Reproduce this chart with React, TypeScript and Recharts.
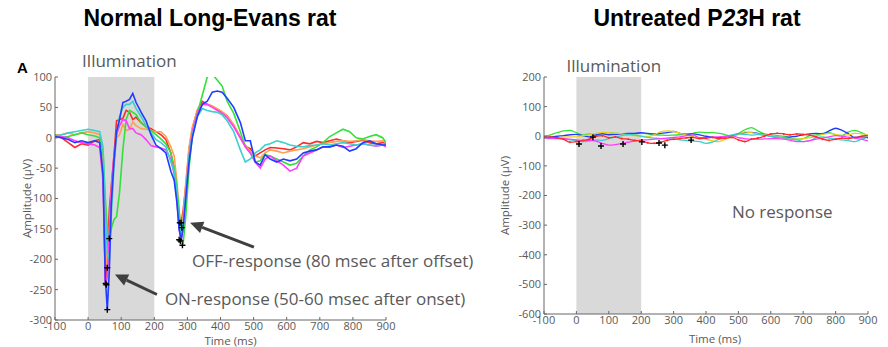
import React from 'react';
import {
  ComposedChart,
  Line,
  XAxis,
  YAxis,
  ReferenceArea,
  ReferenceLine,
  ReferenceDot,
} from 'recharts';

// ---- Normal Long-Evans rat (left) ----
const leftTime = [
  -100, -80, -60, -40, -20, 0, 20, 35, 45, 52, 58, 64, 70, 78, 86, 95, 105, 115, 125, 135,
  145, 160, 175, 190, 205, 220, 235, 250, 260, 268, 275, 281, 287, 295, 305, 315, 330, 345, 360, 375,
  390, 405, 420, 440, 460, 475, 490, 505, 520, 535, 550, 570, 590, 610, 630, 650, 670, 690, 710, 730,
  750, 770, 790, 810, 830, 850, 870, 890, 900,
];
const leftRed = [
  2, 0, -8, -16, -10, -12, -5, -3, -40, -238, -200, -120, -80, -30, 28, 30, 32, 45, 42, 30,
  34, 25, 18, 15, 10, 5, -3, -25, -50, -95, -130, -140, -120, -80, -20, 15, 45, 60, 55, 52,
  47, 42, 36, 20, 0, -14, -18, -30, -25, -20, -16, -17, -18, -20, -15, -8, -10, -6, -8, -5,
  -2, -5, -8, -6, -4, -8, -10, -8, -10,
];
const leftOrange = [
  5, 5, 8, 5, 8, 10, 8, 5, -30, -180, -215, -150, -90, -40, 0, 5, 22, 12, 14, 26,
  20, 15, 14, 12, 10, 10, 2, -15, -30, -70, -120, -150, -130, -75, -15, 18, 45, 55, 55, 52,
  48, 43, 36, 22, 2, -12, -22, -30, -33, -25, -20, -22, -25, -22, -20, -18, -15, -12, -10, -8,
  -6, -5, -6, -5, -3, -5, -6, -5, -7,
];
const leftGreen = [
  5, 0, 2, 5, 8, 5, 3, 0, -20, -100, -150, -165, -150, -135, -130, -90, -20, 30, 45, 42,
  38, 25, 18, 12, 5, -2, -10, -25, -50, -80, -120, -165, -175, -130, -50, 5, 40, 70, 100, 105,
  95, 85, 60, 40, 10, -15, -25, -40, -38, -28, -30, -35, -40, -45, -42, -30, -20, -15, -8, 2,
  8, 14, 10, 0, -2, 2, 5, 0, -8,
];
const leftMagenta = [
  0, 2, 0, -5, -8, -10, -12, -16, -70, -240, -230, -160, -90, -30, 5, 20, 30, 28, 15, 15,
  8, 5, -3, -13, -15, -17, -20, -35, -60, -100, -150, -170, -145, -90, -30, 10, 40, 55, 55, 50,
  45, 40, 33, 18, 0, -15, -25, -40, -50, -35, -30, -38, -45, -55, -50, -30, -25, -20, -15, -15,
  -12, -16, -14, -12, -10, -12, -14, -12, -15,
];
const leftCyan = [
  2, 5, 8, 10, 12, 14, 12, 10, -15, -120, -190, -200, -130, -50, 5, 35, 50, 55, 55, 60,
  48, 35, 20, 8, -3, -8, -15, -40, -55, -90, -140, -160, -140, -90, -30, 5, 35, 48, 45, 43,
  42, 38, 28, 10, -20, -40, -35, -25, -20, -12, -10, -5, -8, -12, -14, -15, -13, -12, -10, -12,
  -10, -8, -10, -12, -10, -12, -13, -12, -10,
];
const leftBlue = [
  2, 0, -3, -8, -5, -8, -5, -8, -60, -230, -283, -220, -110, -40, 10, 30, 58, 60, 63, 73,
  58, 42, 28, 5, -12, -18, -25, -55, -70, -105, -150, -168, -150, -100, -40, 0, 35, 55, 60, 75,
  77, 75, 65, 50, 25, -5, -5, -40, -45, -28, -35, -40, -35, -38, -35, -25, -22, -20, -15, -15,
  -12, -14, -22, -18, -8, -5, -10, -12, -12,
];
const leftMarkTime = [53, 55, 58, 58, 64, 275, 277, 279, 281, 283, 285];
const leftMarkVal = [-240, -242, -283, -214, -166, -168, -140, -170, -140, -148, -177];
const leftXTicks = [-100, 0, 100, 200, 300, 400, 500, 600, 700, 800, 900];
const leftYTicks = [-300, -250, -200, -150, -100, -50, 0, 50, 100];

// ---- Untreated P23H rat (right) ----
const rightTime = [
  -100, -80, -60, -40, -20, 0, 20, 40, 60, 80, 100, 120, 140, 160, 180, 200, 220, 240, 260, 280,
  300, 320, 340, 360, 380, 400, 420, 440, 460, 480, 500, 520, 540, 560, 580, 600, 620, 640, 660, 680,
  700, 720, 740, 760, 780, 800, 820, 840, 860, 880, 900,
];
const rightGreen = [
  0, 5, 12, 18, 20, 12, 4, 8, 2, 10, 12, 10, 8, 5, 8, 10, 8, 5, 4, 3,
  4, 5, 8, 10, 14, 12, 12, 10, 5, 0, 10, 22, 29, 18, 8, 5, 2, 0, -5, -10,
  -8, 2, 5, 10, 12, 5, 3, 15, 20, 12, 0,
];
const rightBlue = [
  -5, -3, 0, 2, 5, 6, 2, -2, 5, 8, 5, 6, 8, 10, 10, 12, 10, 8, 10, 12,
  16, 10, 6, 8, 5, 0, -3, -5, -2, 2, 8, 12, 13, 10, 5, 0, -3, -5, -2, 0,
  5, 8, 10, 8, 18, 27, 20, 8, -5, 0, 2,
];
const rightYellow = [
  -5, -8, -6, -3, -2, -2, 2, 5, 10, 13, 12, 10, 8, 5, 2, 0, -2, 5, 15, 18,
  16, 10, 4, -2, -5, -10, -16, -18, -10, -2, 5, 15, 12, 8, 5, 2, -2, -5, -8, -10,
  -8, -5, 0, 6, 10, 6, 2, 5, 10, 8, 5,
];
const rightCyan = [
  -5, -8, -6, -10, -12, -14, -18, -16, -12, -14, -8, -3, 2, 6, 4, 0, -4, -6, -8, -9,
  -10, -12, -15, -16, -18, -24, -20, -10, -2, 5, 8, 6, 4, 6, 3, 0, -2, -5, -10, -12,
  -18, -15, -5, -2, -6, -10, -12, -15, -18, -10, -2,
];
const rightMagenta = [
  -5, -6, -8, -8, -10, -12, -14, -14, -16, -24, -30, -28, -24, -20, -16, -13, -12, -10, -8, -6,
  -4, -2, 2, 4, -5, -5, -3, -2, 0, 2, -5, -8, -10, -10, -9, -8, -8, -10, -14, -18,
  -18, -15, -10, -6, -2, 2, 0, -3, -6, -10, -16,
];
const rightRed = [
  -3, -2, -5, -10, -20, -18, -14, -10, 0, 2, -5, -2, -8, -10, -14, -16, -22, -24, -20, -14,
  -10, -8, -5, -4, -8, -6, -4, -8, -6, -4, -12, -18, -10, -6, 0, 8, 10, 8, 5, 8,
  6, 4, -2, -10, -14, -10, -6, -8, -4, -2, -5,
];
const rightMarkTime = [8, 51, 76, 144, 202, 255, 273, 354];
const rightMarkVal = [-26, -3, -33, -26, -19, -23, -30, -13];
const rightXTicks = [-100, 0, 100, 200, 300, 400, 500, 600, 700, 800, 900];
const rightYTicks = [-600, -500, -400, -300, -200, -100, 0, 100, 200];

const toRows = (ts: number[], vs: number[]) => ts.map((t, i) => ({ t, v: vs[i] }));

const FONT = '"Open Sans", "DejaVu Sans", sans-serif';
const GREY = '#595959';

const Plus = (p: any) => {
  const { cx, cy, index } = p;
  if (cx == null || cy == null) return <g key={index} />;
  return (
    <path
      key={index}
      d={`M${cx - 3},${cy}H${cx + 3}M${cx},${cy - 3}V${cy + 3}`}
      stroke="#000"
      strokeWidth={1.4}
    />
  );
};

const Arrow = (p: any) => {
  const { x1, y1, x2, y2 } = p;
  const a = Math.atan2(y2 - y1, x2 - x1);
  const len = 13;
  const half = 6;
  const bx = x2 - len * Math.cos(a);
  const by = y2 - len * Math.sin(a);
  const px = -Math.sin(a) * half;
  const py = Math.cos(a) * half;
  return (
    <g>
      <line x1={x1} y1={y1} x2={bx} y2={by} stroke="#3f3f3f" strokeWidth={3} />
      <polygon points={`${x2},${y2} ${bx + px},${by + py} ${bx - px},${by - py}`} fill="#3f3f3f" />
    </g>
  );
};

const textAt = (text: string, dx = 0, dy = 0, size = 17) => (props: any) => {
  const vb = props.viewBox || {};
  return (
    <text x={vb.x + dx} y={vb.y + dy} fill={GREY} fontSize={size} fontFamily={FONT}>
      {text}
    </text>
  );
};

const tickStyle = { fontSize: 11, fill: GREY, fontFamily: FONT };

export default function App() {
  const leftSeries = [
    { name: 'red', color: '#ff2a2a', values: leftRed },
    { name: 'orange', color: '#ffa055', values: leftOrange },
    { name: 'green', color: '#33e03a', values: leftGreen },
    { name: 'magenta', color: '#ff3cff', values: leftMagenta },
    { name: 'cyan', color: '#3ccfcf', values: leftCyan },
    { name: 'blue', color: '#1f3cff', values: leftBlue },
  ];
  const rightSeries = [
    { name: 'green', color: '#33e03a', values: rightGreen },
    { name: 'blue', color: '#1f3cff', values: rightBlue },
    { name: 'yellow', color: '#e8cf1c', values: rightYellow },
    { name: 'cyan', color: '#3ccfcf', values: rightCyan },
    { name: 'magenta', color: '#ff3cff', values: rightMagenta },
    { name: 'red', color: '#ff2a2a', values: rightRed },
  ];

  return (
    <div
      style={{
        position: 'absolute',
        left: 0,
        top: 0,
        width: 888,
        height: 347,
        background: '#fff',
        fontFamily: FONT,
      }}
    >
      <div
        style={{
          position: 'absolute',
          left: 0,
          width: 420,
          top: 7,
          textAlign: 'center',
          fontFamily: '"Liberation Sans", Arial, sans-serif',
          fontWeight: 'bold',
          fontSize: 23,
          lineHeight: '23px',
        }}
      >
        Normal Long-Evans rat
      </div>
      <div
        style={{
          position: 'absolute',
          left: 497,
          width: 400,
          top: 7,
          textAlign: 'center',
          fontFamily: '"Liberation Sans", Arial, sans-serif',
          fontWeight: 'bold',
          fontSize: 23,
          lineHeight: '23px',
        }}
      >
        Untreated P<i>23</i>H rat
      </div>
      <div
        style={{
          position: 'absolute',
          left: 17,
          top: 60,
          fontFamily: '"Liberation Sans", Arial, sans-serif',
          fontWeight: 'bold',
          fontSize: 15,
          lineHeight: '15px',
        }}
      >
        A
      </div>

      {/* left panel */}
      <div style={{ position: 'absolute', left: 0, top: 0 }}>
        <ComposedChart width={480} height={347} margin={{ top: 77, right: 94, bottom: 0, left: 0 }}>
          <XAxis
            dataKey="t"
            type="number"
            domain={[-100, 900]}
            ticks={leftXTicks}
            interval={0}
            height={27}
            stroke="#666"
            tick={tickStyle}
            tickSize={-3}
            tickMargin={5}
            allowDataOverflow
            label={{ value: 'Time (ms)', position: 'insideBottom', offset: 2, dx: 10, fontSize: 11.5, fill: GREY }}
          />
          <YAxis
            dataKey="v"
            type="number"
            domain={[-300, 100]}
            ticks={leftYTicks}
            interval={0}
            width={55}
            stroke="#666"
            tick={tickStyle}
            tickSize={-3}
            tickMargin={6}
            allowDataOverflow
            label={{ value: 'Amplitude (µV)', angle: -90, position: 'center', dx: -1, fontSize: 11.5, fill: GREY }}
          />
          <ReferenceArea
            x1={0}
            x2={200}
            y1={-300}
            y2={100}
            fill="#d9d9d9"
            fillOpacity={1}
            stroke="none"
            label={textAt('Illumination', -6, -10)}
          />
          {leftSeries.map((s) => (
            <Line
              key={s.name}
              data={toRows(leftTime, s.values)}
              dataKey="v"
              stroke={s.color}
              strokeWidth={1.6}
              dot={false}
              activeDot={false}
              type="linear"
              isAnimationActive={false}
            />
          ))}
          <Line
            data={toRows(leftMarkTime, leftMarkVal)}
            dataKey="v"
            stroke="none"
            dot={Plus}
            activeDot={false}
            isAnimationActive={false}
          />
          <ReferenceLine
            segment={[{ x: 208, y: -258 }, { x: 81, y: -225 }]}
            shape={Arrow}
          />
          <ReferenceLine
            segment={[{ x: 501, y: -180 }, { x: 308, y: -140 }]}
            shape={Arrow}
          />
          <ReferenceDot
            x={314}
            y={-213}
            r={0}
            fill="none"
            stroke="none"
            label={textAt('OFF-response (80 msec after offset)')}
          />
          <ReferenceDot
            x={232}
            y={-276}
            r={0}
            fill="none"
            stroke="none"
            label={textAt('ON-response (50-60 msec after onset)')}
          />
        </ComposedChart>
      </div>

      {/* right panel */}
      <div style={{ position: 'absolute', left: 480, top: 0 }}>
        <ComposedChart width={400} height={347} margin={{ top: 77, right: 12, bottom: 0, left: 0 }}>
          <XAxis
            dataKey="t"
            type="number"
            domain={[-100, 900]}
            ticks={rightXTicks}
            interval={0}
            height={33}
            stroke="#666"
            tick={tickStyle}
            tickSize={-3}
            tickMargin={5}
            allowDataOverflow
            label={{ value: 'Time (ms)', position: 'insideBottom', offset: 4, dx: 9, fontSize: 11.5, fill: GREY }}
          />
          <YAxis
            dataKey="v"
            type="number"
            domain={[-600, 200]}
            ticks={rightYTicks}
            interval={0}
            width={64}
            stroke="#666"
            tick={tickStyle}
            tickSize={-3}
            tickMargin={6}
            allowDataOverflow
            label={{ value: 'Amplitude (µV)', angle: -90, position: 'center', dx: -7, fontSize: 11.5, fill: GREY }}
          />
          <ReferenceArea
            x1={0}
            x2={200}
            y1={-600}
            y2={200}
            fill="#d9d9d9"
            fillOpacity={1}
            stroke="none"
            label={textAt('Illumination', -10, -5)}
          />
          {rightSeries.map((s) => (
            <Line
              key={s.name}
              data={toRows(rightTime, s.values)}
              dataKey="v"
              stroke={s.color}
              strokeWidth={1.3}
              dot={s.name === 'red' ? { r: 1, fill: s.color, stroke: 'none' } : false}
              activeDot={false}
              type="monotone"
              isAnimationActive={false}
            />
          ))}
          <Line
            data={toRows(rightMarkTime, rightMarkVal)}
            dataKey="v"
            stroke="none"
            dot={Plus}
            activeDot={false}
            isAnimationActive={false}
          />
          <ReferenceDot
            x={480}
            y={-276}
            r={0}
            fill="none"
            stroke="none"
            label={textAt('No response')}
          />
        </ComposedChart>
      </div>
    </div>
  );
}
